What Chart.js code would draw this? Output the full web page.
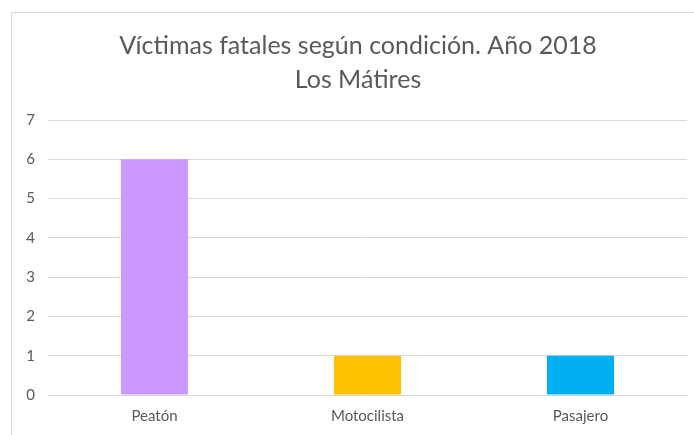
<!DOCTYPE html>
<html>
<head>
<meta charset="utf-8">
<script src="https://cdn.jsdelivr.net/npm/chart.js@4"></script>
<style>
  html, body { margin: 0; padding: 0; background: #fff; }
  #wrap { position: relative; width: 694px; height: 435px; overflow: hidden; }
  #frame { position: absolute; left: 11px; top: 12px; width: 720px; height: 460px; border: 1px solid #d9d9d9; box-sizing: border-box; }
  canvas { position: absolute; left: 0; top: 0; }
</style>
</head>
<body>
<div id="wrap">
  <div id="frame"></div>
  <canvas id="chart" width="715" height="435"></canvas>
</div>
<script>
// ── Data ──────────────────────────────────────────────────────────────────────
const categories = ['Peatón', 'Motocilista', 'Pasajero'];
const victims    = [6, 1, 1];
const barColors  = ['#CC99FF', '#FFC000', '#00B0F0'];
const titleLines = ['Víctimas fatales según condición. Año 2018', 'Los Mátires'];

const FONT = 'Lato, "Noto Sans", sans-serif';
const GREY = '#595959';

new Chart(document.getElementById('chart'), {
  type: 'bar',
  data: {
    labels: categories,
    datasets: [{
      data: victims,
      backgroundColor: barColors,
      borderWidth: 0,
      barPercentage: 1,
      categoryPercentage: 0.315,
    }],
  },
  options: {
    responsive: false,
    animation: false,
    layout: { padding: { top: 12, left: 8, right: 7, bottom: 0 } },
    plugins: {
      legend: { display: false },
      tooltip: { enabled: false },
      title: {
        display: true,
        text: titleLines,
        color: GREY,
        font: { family: FONT, size: 25, weight: 'normal', lineHeight: 1.36 },
        padding: { top: 17, bottom: 23 },
      },
    },
    scales: {
      x: {
        grid: { display: false, drawTicks: false },
        border: { display: false },
        ticks: { color: GREY, font: { family: FONT, size: 15 }, padding: 12 },
        afterFit: s => { s.height = 40; },
      },
      y: {
        min: 0,
        max: 7,
        grid: { color: '#d9d9d9', lineWidth: 1, drawTicks: false },
        border: { display: false },
        ticks: { stepSize: 1, color: GREY, font: { family: FONT, size: 15 }, padding: 13 },
        afterFit: s => { s.width = 40; },
      },
      // empty spacer on the right so the title centres like the original
      yPad: {
        position: 'right',
        grid: { display: false, drawTicks: false },
        border: { display: false },
        ticks: { display: false },
        afterFit: s => { s.width = 21; },
      },
    },
  },
});
</script>
</body>
</html>
